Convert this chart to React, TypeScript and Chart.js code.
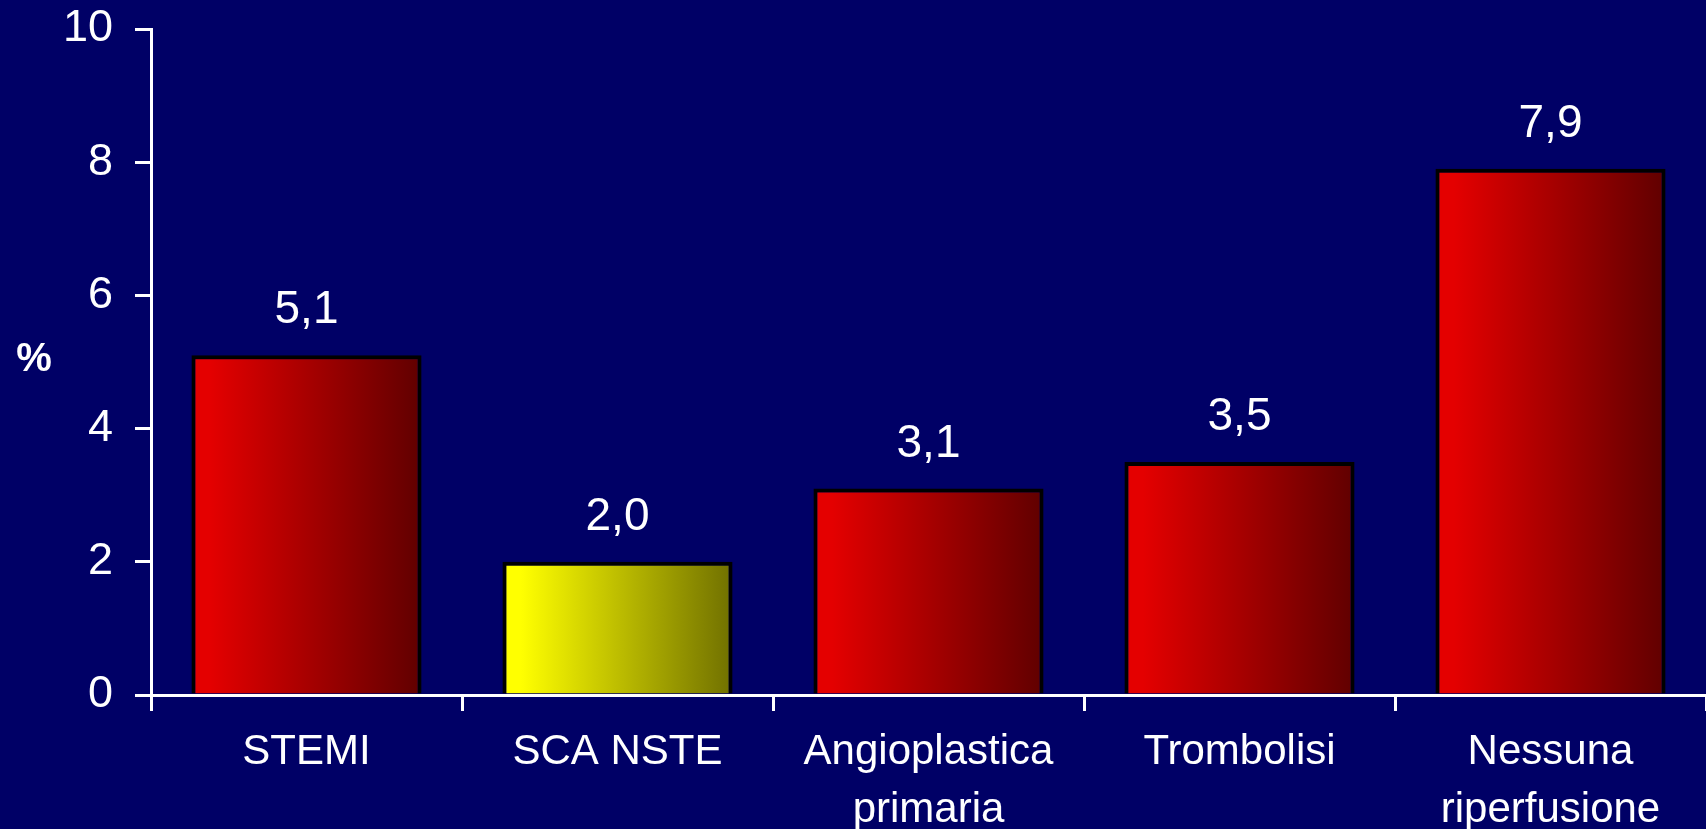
import React, { useEffect, useRef } from "react";
import { Chart, registerables } from "chart.js";

Chart.register(...registerables);

const categories: (string | string[])[] = [
  "STEMI",
  "SCA NSTE",
  ["Angioplastica", "primaria"],
  "Trombolisi",
  ["Nessuna", "riperfusione"],
];
const mortality: number[] = [5.1, 2.0, 3.1, 3.5, 7.9];
const valueLabels: string[] = ["5,1", "2,0", "3,1", "3,5", "7,9"];
const barStyle: string[] = ["red", "yellow", "red", "red", "red"];
const yTicks: number[] = [0, 2, 4, 6, 8, 10];
const yTitle = "%";

const BG = "#000066";
const FONT = "'Liberation Sans', Arial, sans-serif";
const BAR_PCT = 0.74;

const gradientStops: Record<string, [string, string]> = {
  red: ["#e40000", "#600000"],
  yellow: ["#ffff00", "#707000"],
};

export default function App() {
  const ref = useRef<HTMLCanvasElement | null>(null);

  useEffect(() => {
    const canvas = ref.current;
    if (!canvas) return;

    const fill = (ctx: any) => {
      const chart = ctx.chart;
      const style = barStyle[ctx.dataIndex] || "red";
      const [c0, c1] = gradientStops[style];
      const xs = chart.scales?.x;
      if (!xs || !chart.chartArea || ctx.dataIndex === undefined) return c0;
      const center = xs.getPixelForValue(ctx.dataIndex);
      const half = (xs.width / categories.length) * BAR_PCT / 2;
      const g = chart.ctx.createLinearGradient(center - half, 0, center + half, 0);
      g.addColorStop(0, c0);
      g.addColorStop(0.08, c0);
      g.addColorStop(1, c1);
      return g;
    };

    const valuePlugin = {
      id: "valueLabels",
      afterDatasetsDraw(chart: any) {
        const c = chart.ctx;
        const meta = chart.getDatasetMeta(0);
        c.save();
        c.fillStyle = "#ffffff";
        c.font = `46px ${FONT}`;
        c.textAlign = "center";
        c.textBaseline = "alphabetic";
        meta.data.forEach((bar: any, i: number) => {
          c.fillText(valueLabels[i], bar.x, bar.y - 32);
        });
        c.restore();
      },
    };

    const titlePlugin = {
      id: "yTitleHorizontal",
      afterDraw(chart: any) {
        const c = chart.ctx;
        c.save();
        c.fillStyle = "#ffffff";
        c.font = `bold 40px ${FONT}`;
        c.textAlign = "center";
        c.textBaseline = "middle";
        c.fillText(yTitle, 34, 360);
        c.restore();
      },
    };

    const bgPlugin = {
      id: "bg",
      beforeDraw(chart: any) {
        const c = chart.ctx;
        c.save();
        c.fillStyle = BG;
        c.fillRect(0, 0, chart.width, chart.height);
        c.restore();
      },
    };

    const chart = new Chart(canvas, {
      type: "bar",
      data: {
        labels: categories,
        datasets: [
          {
            data: mortality,
            backgroundColor: fill,
            borderColor: "#000000",
            borderWidth: 4,
            borderSkipped: "bottom",
            barPercentage: BAR_PCT,
            categoryPercentage: 1,
          },
        ],
      },
      options: {
        responsive: false,
        animation: false,
        devicePixelRatio: 1,
        layout: { padding: { top: 29, right: 0, left: 0, bottom: 0 } },
        plugins: {
          legend: { display: false },
          tooltip: { enabled: false },
          title: { display: false },
        },
        scales: {
          x: {
            offset: true,
            grid: {
              display: true,
              drawOnChartArea: false,
              drawTicks: true,
              tickLength: 16,
              offset: true,
              color: "#ffffff",
              lineWidth: 3,
            },
            border: { display: true, color: "#ffffff", width: 3 },
            ticks: {
              color: "#ffffff",
              font: { family: FONT, size: 42, lineHeight: 1.38 },
              padding: 12,
              maxRotation: 0,
              autoSkip: false,
            },
            afterFit(scale: any) {
              scale.height = 829 - 695;
              scale.paddingLeft = 0;
              scale.paddingRight = 0;
            },
          },
          y: {
            min: 0,
            max: 10,
            afterBuildTicks(scale: any) {
              scale.ticks = yTicks.map((v) => ({ value: v }));
            },
            grid: {
              display: true,
              drawOnChartArea: false,
              drawTicks: true,
              tickLength: 16,
              color: "#ffffff",
              lineWidth: 3,
            },
            border: { display: true, color: "#ffffff", width: 3 },
            ticks: {
              color: "#ffffff",
              font: { family: FONT, size: 45 },
              padding: 22,
            },
            afterFit(scale: any) {
              scale.width = 151;
              scale.paddingTop = 0;
              scale.paddingBottom = 0;
            },
          },
        },
      },
      plugins: [bgPlugin, valuePlugin, titlePlugin],
    });

    return () => chart.destroy();
  }, []);

  return (
    <div
      style={{
        position: "fixed",
        left: 0,
        top: 0,
        width: 1706,
        height: 829,
        background: BG,
      }}
    >
      <canvas ref={ref} width={1706} height={829} style={{ display: "block" }} />
    </div>
  );
}
